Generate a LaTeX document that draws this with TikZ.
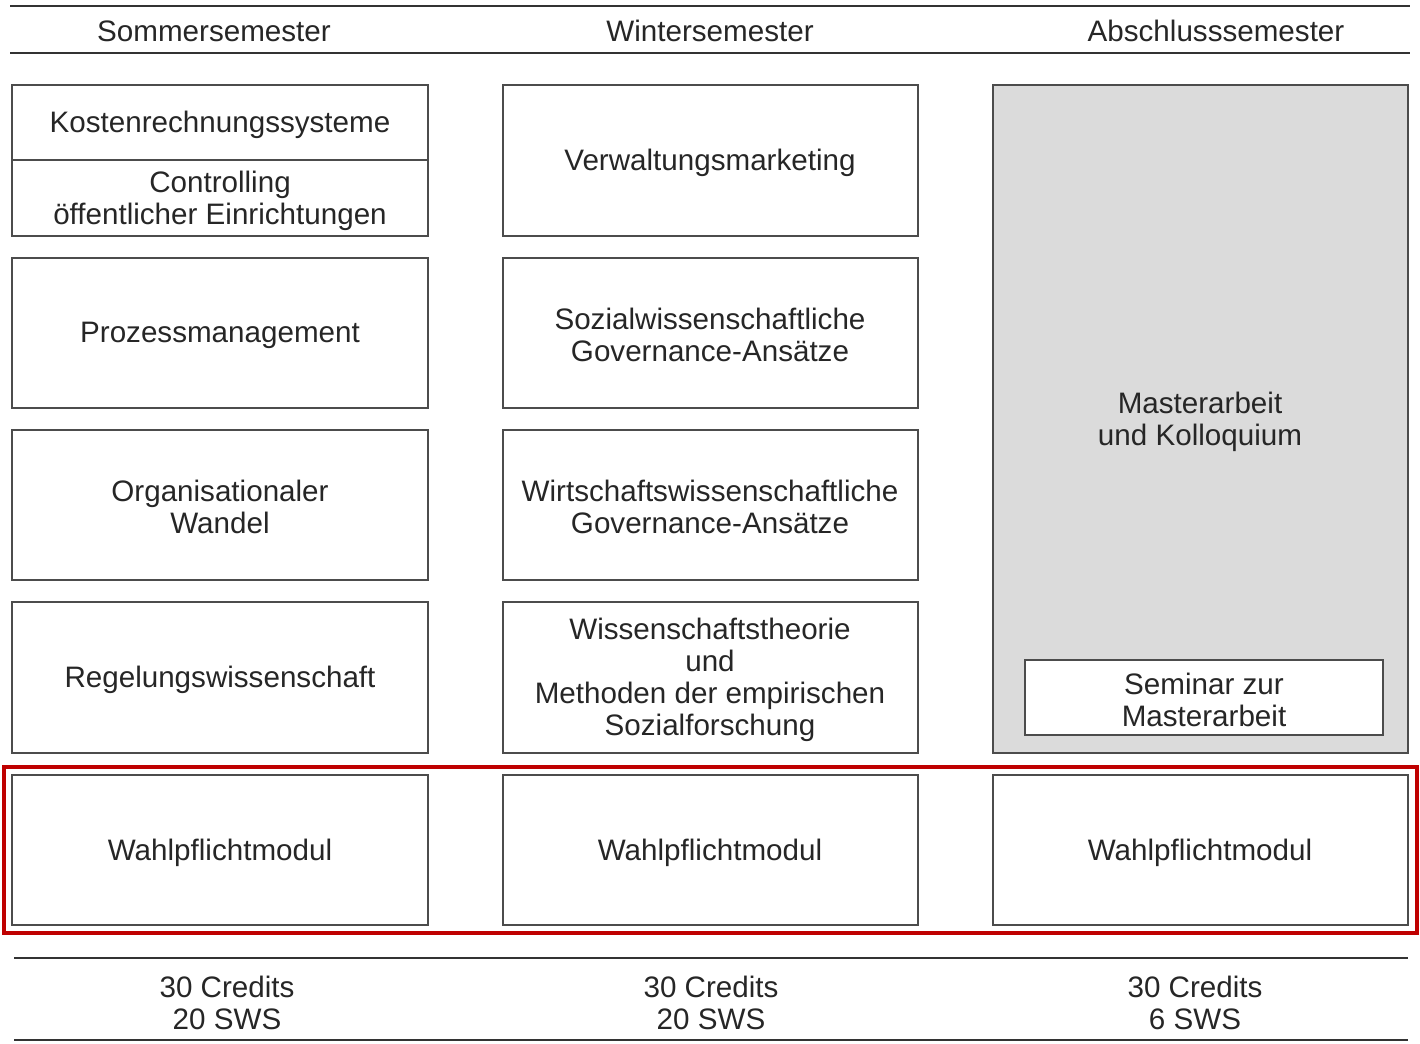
\documentclass[tikz,border=0pt]{standalone}
\usepackage{fontspec}
\setmainfont{Liberation Sans}
\begin{document}
\begin{tikzpicture}[x=0.5pt,y=-0.5pt,
  box/.style={draw=black!70,line width=0.8pt},
  txt/.style={font=\fontsize{14.8}{16}\selectfont,align=center,text=black!85},
  rule/.style={line width=1.1pt,black!80}]
\useasboundingbox (0,0) rectangle (1420,1044);
% header
\draw[rule] (10,6) -- (1410,6);
\draw[rule] (10,53) -- (1410,53);
\node[txt] (h1) at (214,31) {Sommersemester};
\node[txt] (h2) at (710,31) {Wintersemester};
\node[txt] (h3) at (1216,31) {Abschlusssemester};
% column 3 gray
\draw[box,fill=black!14] (993,85) rectangle (1408,753);
\node[txt] (ma) at (1200,422) {Masterarbeit\\und Kolloquium};
\draw[box,fill=white] (1025,660) rectangle (1383,735);
\node[txt] (sem) at (1204,700) {Seminar zur\\Masterarbeit};
% column 1
\draw[box] (12,85) rectangle (428,236);
\draw[box] (12,160) -- (428,160);
\node[txt] (k) at (220,125) {Kostenrechnungssysteme};
\node[txt] (c) at (220,201) {Controlling\\öffentlicher Einrichtungen};
\draw[box] (12,258) rectangle (428,408);
\node[txt] (p) at (220,335) {Prozessmanagement};
\draw[box] (12,430) rectangle (428,580);
\node[txt] (o) at (220,507) {Organisationaler\\Wandel};
\draw[box] (12,602) rectangle (428,753);
\node[txt] (r) at (220,680) {Regelungswissenschaft};
% column 2
\draw[box] (503,85) rectangle (918,236);
\node[txt] (v) at (710,163) {Verwaltungsmarketing};
\draw[box] (503,258) rectangle (918,408);
\node[txt] (s) at (710,335) {Sozialwissenschaftliche\\Governance-Ansätze};
\draw[box] (503,430) rectangle (918,580);
\node[txt] (w) at (710,507) {Wirtschaftswissenschaftliche\\Governance-Ansätze};
\draw[box] (503,602) rectangle (918,753);
\node[txt] (wt) at (710,680) {Wissenschaftstheorie\\und\\Methoden der empirischen\\Sozialforschung};
% Wahlpflicht
\draw[red!75!black,line width=1.6pt] (4,767) rectangle (1417,933);
\draw[box] (12,775) rectangle (428,925);
\draw[box] (503,775) rectangle (918,925);
\draw[box] (993,775) rectangle (1408,925);
\node[txt] (w1) at (220,853) {Wahlpflichtmodul};
\node[txt] (w2) at (710,853) {Wahlpflichtmodul};
\node[txt] (w3) at (1200,853) {Wahlpflichtmodul};
% footer
\draw[rule] (14,958) -- (1408,958);
\draw[rule] (14,1040) -- (1408,1040);
\node[txt] (f1) at (227,1003) {30 Credits\\20 SWS};
\node[txt] (f2) at (711,1003) {30 Credits\\20 SWS};
\node[txt] (f3) at (1195,1003) {30 Credits\\6 SWS};
\end{tikzpicture}
\end{document}
